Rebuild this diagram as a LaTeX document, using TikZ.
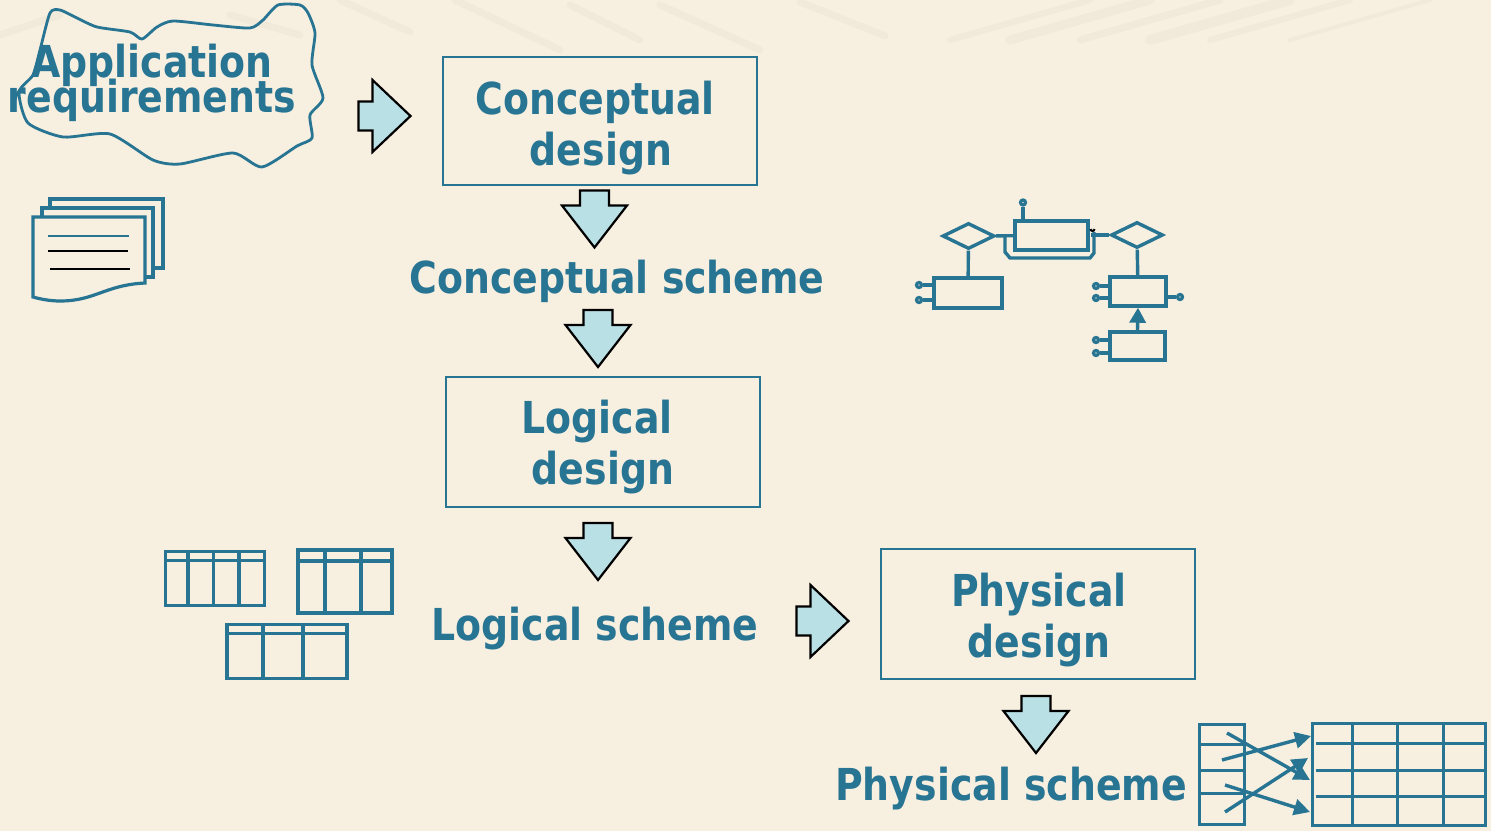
\documentclass[tikz,border=0pt]{standalone}
\usepackage{fontspec}
\setmainfont{DejaVu Sans}[FakeStretch=0.86]
\usetikzlibrary{calc}
\usetikzlibrary{arrows.meta}
\usetikzlibrary{shapes.geometric}
\definecolor{paper}{HTML}{F7EFE0}
\definecolor{teal}{HTML}{277493}
\definecolor{pale}{HTML}{B9E0E4}
\definecolor{smear}{HTML}{DDD8C8}
\newcommand{\tightlines}{\setlength{\lineskiplimit}{-100pt}}
\tikzset{
  title/.style={text=teal,font=\fontsize{44}{51}\selectfont\bfseries,align=center,inner sep=0pt},
  stepbox/.style={draw=teal,line width=2.8pt,fill=none,minimum width=314pt,minimum height=128pt},
  ent/.style={draw=teal,line width=3.4pt,inner sep=0pt},
  attr/.style={draw=teal,line width=3.2pt,circle,minimum size=5pt,inner sep=0pt,fill=paper},
  rel/.style={draw=teal,line width=3.4pt,diamond,minimum width=52pt,minimum height=26pt,inner sep=0pt,aspect=2},
  wire/.style={draw=teal,line width=3.4pt},
  grid/.style={draw=teal,line width=3.6pt},
  tbl/.style={draw=teal,line width=3.8pt,inner sep=0pt,anchor=north west},
  streak/.style={smear,line width=7pt,opacity=0.22,line cap=round},
  blockdown/.pic={\draw[line width=2.2pt,fill=pale,line join=miter] (-14.5,0) -- (14.5,0) -- (14.5,15) -- (32.5,15) -- (0,57) -- (-32.5,15) -- (-14.5,15) -- cycle;},
  blockright/.pic={\draw[line width=2.2pt,fill=pale,line join=miter] (0,-14.5) -- (0,14.5) -- (14,14.5) -- (14,36) -- (52,0) -- (14,-36) -- (14,-14.5) -- cycle;}
}
\begin{document}
\begin{tikzpicture}[x=1pt,y=-1pt]
\useasboundingbox (0,0) rectangle (1491,831);
\fill[paper] (0,0) rectangle (1491,831);

% backdrop
\draw[streak] (340,0) -- (410,32);
\draw[streak] (455,0) -- (560,50);
\draw[streak] (570,5) -- (640,40);
\draw[streak] (660,5) -- (760,50);
\draw[streak] (800,2) -- (885,36);
\draw[streak] (0,35) -- (60,15);
\draw[streak] (230,15) -- (300,35);
\foreach \dx/\w in {950/6,1010/9,1080/7,1150/10,1210/6,1290/4}
  \draw[smear,line width=\w pt,opacity=0.22,line cap=round] (\dx,40) -- (\dx+140,0);

% requirements
\draw[teal,line width=2.8pt] plot[smooth cycle,tension=0.4] coordinates {(50,13) (60,10) (77,18) (97,27) (130,32) (142,39) (157,27) (173,21) (213,25) (250,28) (263,20) (278,5) (300,5) (308,13) (315,33) (312,65) (323,98) (310,115) (312,138) (297,146) (262,167) (233,153) (180,164) (153,160) (110,134) (63,137) (28,123) (19,92) (33,75) (40,50)};
\node[title,font=\fontsize{44}{35}\selectfont\bfseries\tightlines] (app) at (152,83) {Application\\requirements};

\draw[teal,line width=3.2pt] (50,208) -- (50,199) -- (163,199) -- (163,268) -- (153,268);
\draw[teal,line width=3.2pt] (42,217) -- (42,208) -- (153,208) -- (153,277) -- (145,277);
\draw[teal,line width=3.2pt] (33,217) -- (145,217) -- (145,283) .. controls (105,285) and (95,301) .. (60,301) .. controls (50,301) and (40,299) .. (33,297) -- cycle;
\draw[teal,line width=2pt] (48,235.5) -- (129,235.5);
\draw[black,line width=2pt] (48,250.5) -- (128,250.5);
\draw[black,line width=2pt] (50,269) -- (130,269);

% steps
\node[stepbox] (cd) at (600,121) {};
\node[title] (cdt) at (595,128) {Conceptual\\\hspace*{12pt}design};
\node[stepbox,minimum height=130pt] (ld) at (603,442) {};
\node[title] (ldt) at (597,447) {Logical\\\hspace*{12pt}design};
\node[stepbox,minimum height=130pt] (pd) at (1038,614) {};
\node[title] (pdt) at (1039,620) {Physical\\design};
\node[title] (cs) at (617,281) {Conceptual scheme};
\node[title] (ls) at (595,629) {Logical scheme};
\node[title] (ps) at (1011,789) {Physical scheme};

\pic at (594.5,190.5) {blockdown};
\pic at (598,310) {blockdown};
\pic at (598,523) {blockdown};
\pic at (1036,696) {blockdown};
\pic at (358.5,116) {blockright};
\pic at (796.5,621) {blockright};

% er part
\node[ent,minimum width=73pt,minimum height=29pt] (mid) at (1051.5,235.5) {};
\node[rel] (rl) at (968.5,236) {};
\node[rel] (rr) at (1137,235) {};
\node[ent,minimum width=68pt,minimum height=30pt] (el) at (968,293) {};
\node[ent,minimum width=56pt,minimum height=29pt] (er) at (1138,291.5) {};
\node[ent,minimum width=55pt,minimum height=28pt] (es) at (1137.5,346) {};
\node[attr] (a0) at (1023,202.5) {};
\node[attr] (a1) at (919,285) {};
\node[attr] (a2) at (919,300) {};
\node[attr] (a3) at (1096,286) {};
\node[attr] (a4) at (1096,298) {};
\node[attr] (a5) at (1180,297) {};
\node[attr] (a6) at (1096,340) {};
\node[attr] (a7) at (1096,353) {};
\draw[wire] (rl) -- (mid);
\draw[wire] (rl) -- (el);
\draw[wire] (rr) -- (er);
\draw[wire] (a0) -- (a0 |- mid.north);
\draw[wire] (a1) -- (a1 -| el.west);
\draw[wire] (a2) -- (a2 -| el.west);
\draw[wire] (a3) -- (a3 -| er.west);
\draw[wire] (a4) -- (a4 -| er.west);
\draw[wire] (a5) -- (a5 -| er.east);
\draw[wire] (a6) -- (a6 -| es.west);
\draw[wire] (a7) -- (a7 -| es.west);
\draw[wire] ($(rr.west)+(-18,0)$) -- (rr);
\draw[wire] (1005,236) -- (1005,252) -- (1010,258) -- (1090,258) -- (1094,253) -- (1094,232);
\draw[black,line width=2pt] (1090.5,229) arc (180:0:2);
\draw[wire,-{Triangle[length=15pt,width=16pt]}] (es.north) -- (er.south);

% logical tables
\node[tbl,minimum width=99pt,minimum height=54pt] (t1) at (163.5,549.5) {};
\draw[grid] ($(t1.north west)+(3,11)$) -- ($(t1.north east)+(0,11)$);
\foreach \dx in {24.5,50,75.5} \draw[grid] ($(t1.north west)+(\dx,0)$) -- ($(t1.south west)+(\dx,0)$);
\node[tbl,minimum width=94pt,minimum height=63pt] (t2) at (296,548) {};
\draw[grid] ($(t2.north west)+(3,13)$) -- ($(t2.north east)+(0,13)$);
\foreach \dx in {29,65} \draw[grid] ($(t2.north west)+(\dx,0)$) -- ($(t2.south west)+(\dx,0)$);
\node[tbl,minimum width=120pt,minimum height=54pt] (t3) at (225,622.5) {};
\draw[grid] ($(t3.north west)+(3,11)$) -- ($(t3.north east)+(0,11)$);
\foreach \dx in {38,78} \draw[grid] ($(t3.north west)+(\dx,0)$) -- ($(t3.south west)+(\dx,0)$);

% physical part
\node[tbl,minimum width=45pt,minimum height=100pt] (f) at (1197.5,722.5) {};
\foreach \dy in {22,48,71} \draw[grid] ($(f.north west)+(0,\dy)$) -- ($(f.north east)+(0,\dy)$);
\node[tbl,minimum width=173pt,minimum height=102pt] (g) at (1310.5,721.5) {};
\foreach \dy in {22,49,75} \draw[grid] ($(g.north west)+(5,\dy)$) -- ($(g.north east)+(0,\dy)$);
\foreach \dx in {42,87,133} \draw[grid] ($(g.north west)+(\dx,0)$) -- ($(g.south west)+(\dx,0)$);
\coordinate (p1) at (1227,733);
\coordinate (p2) at (1222,760);
\coordinate (p3) at (1225,785);
\coordinate (p4) at (1225,812);
\coordinate (q1) at (1310,780);
\coordinate (q2) at (1311,736);
\coordinate (q3) at (1310,812);
\coordinate (q4) at (1308,758);
\draw[wire,-{Triangle[length=16pt,width=16pt]}] (p1) -- (q1);
\draw[wire,-{Triangle[length=16pt,width=16pt]}] (p2) -- (q2);
\draw[wire,-{Triangle[length=16pt,width=16pt]}] (p3) -- (q3);
\draw[wire,-{Triangle[length=16pt,width=16pt]}] (p4) -- (q4);
\end{tikzpicture}
\end{document}
